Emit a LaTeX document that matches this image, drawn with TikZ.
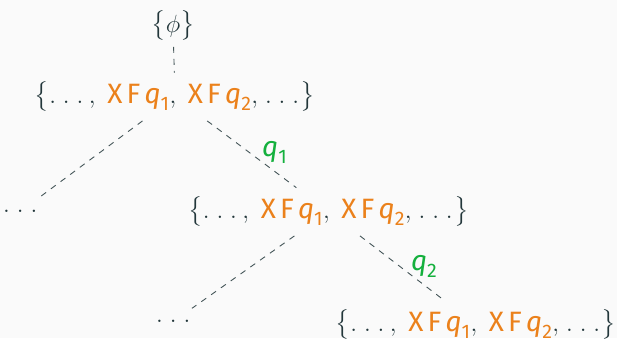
\documentclass[tikz,border=0pt]{standalone}
\usepackage{amsmath}
\usepackage{fontspec}
\setmainfont{Fira Sans}
\definecolor{mDark}{HTML}{23373B}
\definecolor{mOrange}{HTML}{EB811B}
\definecolor{mGreen}{HTML}{14B03D}
\definecolor{mBg}{HTML}{FAFAFA}
\newcommand\xfq[1]{\textcolor{mOrange}{\text{X}\,\text{F}\,\text{\itshape q}_{\text{#1}}}}
\newcommand\mydots{\mathinner{\ldotp\mkern2mu\ldotp\mkern2mu\ldotp\mkern1mu}}
\newcommand\lb{\bigl\{}
\newcommand\rb{\bigr\}}
\newcommand\setrow{$\lb\mydots,\ \xfq1,\ \xfq2,\mkern2mu\mydots\rb$}
\begin{document}
\begin{tikzpicture}[x=1pt,y=-1pt,
  every node/.style={text=mDark,font=\fontsize{28}{34}\selectfont},
  setnode/.style={inner xsep=1pt,inner ysep=9pt,anchor=base},
  dotsnode/.style={inner sep=0pt,minimum height=32pt,minimum width=34pt,anchor=center},
  edge/.style={draw=mDark!85,line width=0.9pt,dash pattern=on 6pt off 6pt},
  lab/.style={text=mGreen,font=\fontsize{28}{34}\selectfont}]
\fill[mBg] (0,0) rectangle (617,338);
\useasboundingbox (0,0) rectangle (617,338);
\node[setnode,inner ysep=6pt] (phi) at (173,32) {$\lb\phi\rb$};
\node[setnode] (n1) at (175,103) {\setrow};
\node[setnode] (n2) at (328.5,218) {\setrow};
\node[setnode] (n3) at (476,331) {\setrow};
\node[dotsnode] (d1) at (21,211) {$\mydots$};
\node[dotsnode] (d2) at (174,321) {$\mydots$};
\draw[edge] (phi) -- (n1);
\draw[edge] (n1) -- (d1);
\draw[edge] (n1) -- node[lab,pos=0.5,xshift=23pt,yshift=2pt]{$\text{\itshape q}_{\text{1}}$} (n2);
\draw[edge] (n2) -- (d2);
\draw[edge] (n2) -- node[lab,pos=0.5,xshift=22pt,yshift=2pt]{$\text{\itshape q}_{\text{2}}$} (n3);
\end{tikzpicture}
\end{document}
